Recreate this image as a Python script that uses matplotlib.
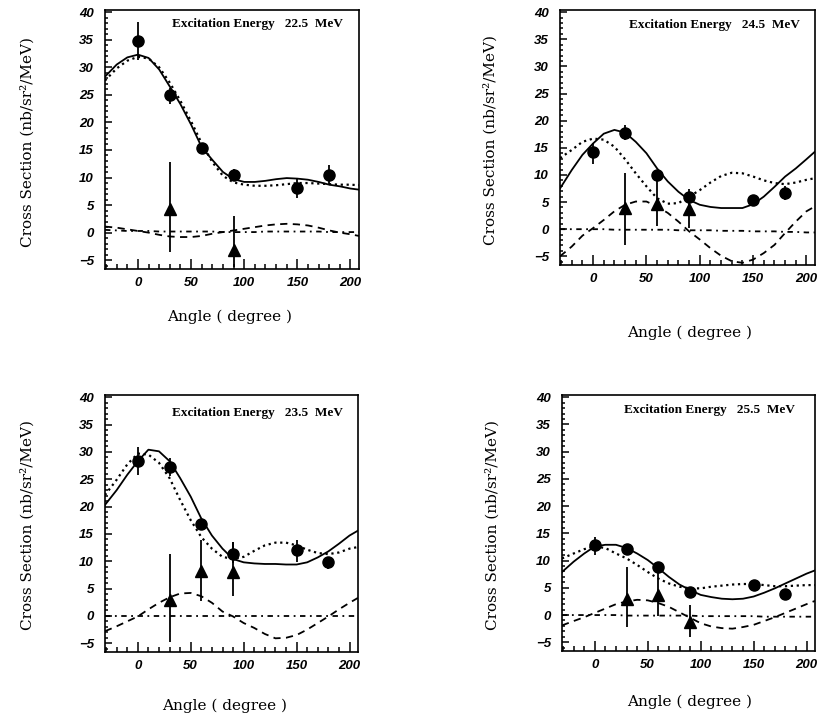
import matplotlib
matplotlib.use("Agg")
import matplotlib.pyplot as plt
from matplotlib.font_manager import FontProperties
from matplotlib.ticker import MultipleLocator

# ---- data --------------------------------------------------------------
ENERGIES = ["22.5", "24.5", "23.5", "25.5"]  # TL, TR, BL, BR

POINT_ANGLE = [0, 30, 60, 90, 150, 180]
ARROW_ANGLE_22 = [30, 90]
ARROW_ANGLE = [30, 60, 90]

CURVE_ANGLE = [-31, -20, -10, 0, 10, 20, 30, 40, 50, 60, 70, 80, 90, 100,
               110, 120, 130, 140, 150, 160, 170, 180, 190, 200, 208]

# 22.5 MeV
e225_y = [34.7, 24.9, 15.4, 10.4, 8.1, 10.4]
e225_lo = [31.4, 23.3, 14.6, 9.3, 6.3, 8.6]
e225_hi = [38.3, 26.3, 16.2, 11.5, 9.8, 12.3]
e225_tri_y = [4.3, -3.1]
e225_tri_lo = [-3.6, -6.3]
e225_tri_hi = [12.9, 3.1]
e225_solid = [28.3, 30.5, 31.8, 32.3, 31.7, 29.6, 26.5, 23.3, 19.6, 15.5, 13.2, 11.0, 9.7,
              9.2, 9.2, 9.4, 9.7, 9.9, 9.8, 9.6, 9.2, 8.7, 8.4, 8.0, 7.8]
e225_dot = [27.6, 29.8, 31.2, 31.9, 31.6, 30.0, 27.2, 23.9, 20.2, 16.2, 12.8, 10.3, 9.1,
            8.7, 8.5, 8.5, 8.6, 8.8, 9.0, 9.0, 8.9, 8.8, 8.7, 8.7, 8.6]
e225_dash = [1.1, 0.9, 0.6, 0.3, 0.0, -0.4, -0.7, -0.8, -0.8, -0.6, -0.2, 0.1, 0.4,
             0.7, 1.0, 1.3, 1.5, 1.6, 1.5, 1.3, 0.9, 0.4, 0.0, -0.3, -0.6]
e225_dashdot = [0.5, 0.4, 0.3, 0.3, 0.3, 0.2, 0.2, 0.2, 0.2, 0.2, 0.2, 0.1, 0.1,
                0.1, 0.1, 0.2, 0.2, 0.2, 0.2, 0.2, 0.2, 0.1, 0.1, 0.1, 0.1]

# 24.5 MeV
e245_y = [14.2, 17.8, 9.9, 6.0, 5.4, 6.6]
e245_lo = [12.1, 16.4, 9.0, 4.8, 4.9, 5.4]
e245_hi = [15.8, 19.2, 10.8, 7.4, 6.0, 7.9]
e245_tri_y = [3.9, 4.7, 3.75]
e245_tri_lo = [-2.9, 0.5, 0.2]
e245_tri_hi = [10.4, 10.0, 6.3]
e245_solid = [7.5, 10.9, 13.7, 15.8, 17.6, 18.3, 17.8, 16.1, 14.0, 11.2, 8.8, 6.9, 5.4,
              4.5, 4.1, 3.9, 3.9, 3.9, 4.6, 6.0, 7.8, 9.7, 11.2, 12.9, 14.3]
e245_dot = [13.1, 14.6, 16.1, 16.7, 16.5, 15.2, 12.9, 10.3, 7.9, 5.7, 4.7, 4.8, 6.0,
            7.2, 8.6, 9.8, 10.4, 10.3, 9.7, 9.0, 8.5, 8.3, 8.6, 9.1, 9.4]
e245_dash = [-5.0, -3.2, -1.2, 0.2, 1.7, 3.3, 4.5, 5.1, 5.1, 4.2, 3.0, 1.4, -0.4,
             -1.9, -3.5, -4.9, -5.9, -6.2, -5.6, -4.4, -2.9, -0.7, 1.4, 3.3, 4.2]
e245_dashdot = [0.0, 0.0, 0.0, 0.0, 0.0, -0.1, -0.1, -0.1, -0.1, -0.1, -0.1, -0.2, -0.2,
                -0.2, -0.2, -0.3, -0.3, -0.3, -0.4, -0.4, -0.4, -0.5, -0.5, -0.6, -0.6]

# 23.5 MeV
e235_y = [28.3, 27.2, 16.9, 11.3, 12.0, 9.8]
e235_lo = [25.8, 25.5, 16.2, 9.6, 9.9, 8.6]
e235_hi = [30.8, 28.8, 17.5, 13.6, 13.9, 10.8]
e235_tri_y = [3.0, 8.2, 8.0]
e235_tri_lo = [-4.8, 2.8, 3.6]
e235_tri_hi = [11.3, 13.9, 13.6]
e235_solid = [20.3, 23.0, 25.8, 28.3, 30.4, 30.1, 28.3, 25.2, 21.8, 17.8, 14.7, 12.3, 10.4,
              9.8, 9.6, 9.5, 9.5, 9.4, 9.4, 9.8, 10.7, 11.8, 13.2, 14.7, 15.6]
e235_dot = [22.1, 24.9, 27.7, 29.7, 29.5, 28.0, 25.2, 21.2, 17.5, 14.4, 12.3, 10.8, 10.4,
            10.8, 11.9, 12.9, 13.4, 13.4, 12.9, 12.1, 11.5, 11.3, 11.6, 12.3, 12.6]
e235_dash = [-2.8, -1.9, -1.0, -0.1, 1.2, 2.4, 3.4, 4.1, 4.2, 3.6, 2.4, 0.8, -0.1,
             -1.3, -2.2, -3.3, -4.1, -4.0, -3.5, -2.5, -1.3, -0.1, 1.2, 2.4, 3.3]
e235_dashdot = [0.0] * 25

# 25.5 MeV
e255_y = [12.8, 12.2, 8.8, 4.2, 5.6, 3.9]
e255_lo = [11.0, 11.8, 7.9, 3.8, 5.2, 3.5]
e255_hi = [14.4, 12.7, 9.6, 4.6, 6.0, 4.3]
e255_tri_y = [3.0, 3.6, -1.3]
e255_tri_lo = [-2.2, -0.1, -4.1]
e255_tri_hi = [8.8, 7.9, 1.9]
e255_solid = [7.9, 9.8, 11.3, 12.6, 12.9, 12.9, 12.3, 11.3, 10.1, 8.6, 7.0, 5.6, 4.6,
              3.7, 3.3, 3.0, 2.9, 3.0, 3.4, 4.1, 4.9, 5.8, 6.7, 7.6, 8.2]
e255_dot = [10.4, 11.3, 12.1, 12.6, 12.3, 11.3, 10.4, 9.2, 7.9, 6.7, 5.8, 5.2, 4.9,
            4.9, 5.2, 5.4, 5.6, 5.7, 5.7, 5.5, 5.3, 5.3, 5.4, 5.5, 5.5]
e255_dash = [-1.9, -1.1, -0.4, 0.4, 1.2, 2.0, 2.5, 2.8, 2.7, 2.2, 1.5, 0.5, -0.5,
             -1.5, -2.1, -2.4, -2.5, -2.2, -1.8, -1.1, -0.4, 0.4, 1.2, 2.0, 2.6]
e255_dashdot = [0.0, 0.0, 0.0, 0.0, 0.0, 0.0, -0.1, -0.1, -0.1, -0.1, -0.1, -0.1, -0.1,
                -0.2, -0.2, -0.2, -0.2, -0.2, -0.2, -0.3, -0.3, -0.3, -0.3, -0.3, -0.3]

# ---- figure --------------------------------------------------------------
W, H = 819, 724
fig = plt.figure(figsize=(W / 100, H / 100), dpi=100)


def px_rect(left, top, right, bottom):
    return [left / W, 1 - bottom / H, (right - left) / W, (bottom - top) / H]


panels = [
    dict(rect=px_rect(105, 10, 359, 269), e=ENERGIES[0],
         y=e225_y, lo=e225_lo, hi=e225_hi, tx=ARROW_ANGLE_22,
         ty=e225_tri_y, tlo=e225_tri_lo, thi=e225_tri_hi,
         solid=e225_solid, dot=e225_dot, dash=e225_dash, dd=e225_dashdot,
         ylab=(27, 142), xlab=(230, 317), ann=(343, 24)),
    dict(rect=px_rect(560, 10, 815, 265), e=ENERGIES[1],
         y=e245_y, lo=e245_lo, hi=e245_hi, tx=ARROW_ANGLE,
         ty=e245_tri_y, tlo=e245_tri_lo, thi=e245_tri_hi,
         solid=e245_solid, dot=e245_dot, dash=e245_dash, dd=e245_dashdot,
         ylab=(490, 140), xlab=(690, 333), ann=(800, 25)),
    dict(rect=px_rect(105, 395, 358, 652), e=ENERGIES[2],
         y=e235_y, lo=e235_lo, hi=e235_hi, tx=ARROW_ANGLE,
         ty=e235_tri_y, tlo=e235_tri_lo, thi=e235_tri_hi,
         solid=e235_solid, dot=e235_dot, dash=e235_dash, dd=e235_dashdot,
         ylab=(27, 525), xlab=(225, 706), ann=(343, 413)),
    dict(rect=px_rect(562, 395, 815, 651), e=ENERGIES[3],
         y=e255_y, lo=e255_lo, hi=e255_hi, tx=ARROW_ANGLE,
         ty=e255_tri_y, tlo=e255_tri_lo, thi=e255_tri_hi,
         solid=e255_solid, dot=e255_dot, dash=e255_dash, dd=e255_dashdot,
         ylab=(492, 525), xlab=(690, 702), ann=(795, 410)),
]

tick_font = FontProperties(family="Liberation Sans", weight="bold", style="italic", size=9.5)
label_font = dict(family="DejaVu Serif", size=11)

for p in panels:
    ax = fig.add_axes(p["rect"])
    ax.plot(CURVE_ANGLE, p["solid"], "-", color="black", lw=1.3)
    ax.plot(CURVE_ANGLE, p["dot"], ":", color="black", lw=1.6)
    ax.plot(CURVE_ANGLE, p["dash"], color="black", lw=1.3, dashes=(4, 3))
    ax.plot(CURVE_ANGLE, p["dd"], color="black", lw=1.3, dashes=(3, 2.5, 1, 2.5))

    ax.vlines(POINT_ANGLE, p["lo"], p["hi"], color="black", lw=1.3)
    ax.plot(POINT_ANGLE, p["y"], "o", color="black", ms=8)
    ax.vlines(p["tx"], p["tlo"], p["thi"], color="black", lw=1.3)
    ax.plot(p["tx"], p["ty"], "^", color="black", ms=8)

    ax.set_xlim(-31, 208)
    ax.set_ylim(-6.6, 40.4)
    ax.xaxis.set_major_locator(MultipleLocator(50))
    ax.xaxis.set_minor_locator(MultipleLocator(10))
    ax.yaxis.set_major_locator(MultipleLocator(5))
    ax.yaxis.set_minor_locator(MultipleLocator(1))
    ax.tick_params(which="both", direction="in", top=False, right=False, width=1.1)
    ax.tick_params(axis="y", which="major", length=5, pad=8)
    ax.tick_params(axis="y", which="minor", length=2.5)
    ax.tick_params(axis="x", which="major", length=7, pad=6)
    ax.tick_params(axis="x", which="minor", length=3.5)
    for lab in ax.get_xticklabels() + ax.get_yticklabels():
        lab.set_fontproperties(tick_font)
    for sp in ax.spines.values():
        sp.set_linewidth(1.2)

    fig.text(p["ann"][0] / W, 1 - p["ann"][1] / H,
             "Excitation Energy   %s  MeV" % p["e"],
             ha="right", va="center", family="Liberation Serif",
             weight="bold", size=9.5)
    fig.text(p["ylab"][0] / W, 1 - p["ylab"][1] / H,
             "Cross Section (nb/sr\u00b2/MeV)", rotation=90,
             ha="center", va="center", **label_font)
    fig.text(p["xlab"][0] / W, 1 - p["xlab"][1] / H, "Angle ( degree )",
             ha="center", va="center", **label_font)

fig.savefig("out.png", dpi=100)
